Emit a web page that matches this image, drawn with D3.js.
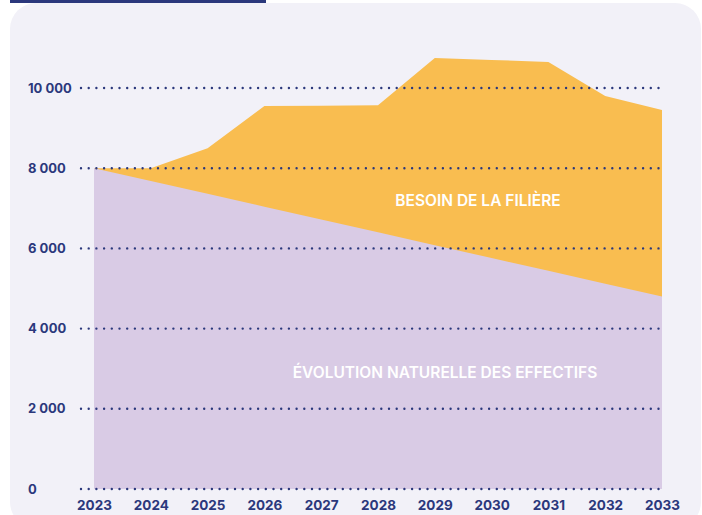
<!DOCTYPE html>
<html>
<head>
<meta charset="utf-8">
<script src="https://cdn.jsdelivr.net/npm/d3@7"></script>
<style>
  body { margin: 0; background: #ffffff; }
  svg { display: block; }
  text { font-family: "Inter", "Open Sans", sans-serif; }
</style>
</head>
<body>
<svg width="702" height="515"></svg>
<script>
// data
var years = [2023, 2024, 2025, 2026, 2027, 2028, 2029, 2030, 2031, 2032, 2033];
var besoin = [8000, 8000, 8500, 9550, 9560, 9570, 10750, 10700, 10650, 9800, 9450];
var naturel = [8000, 7680, 7360, 7040, 6720, 6400, 6080, 5760, 5440, 5120, 4800];
var yTicks = [0, 2000, 4000, 6000, 8000, 10000];

var navy = "#2b387c";

var svg = d3.select("svg");

// panel
svg.append("rect")
  .attr("x", 10).attr("y", 3)
  .attr("width", 691).attr("height", 525)
  .attr("rx", 26)
  .attr("fill", "#f2f1f8");
svg.append("rect")
  .attr("x", 10).attr("y", 0)
  .attr("width", 256).attr("height", 3)
  .attr("fill", navy);

var x = d3.scaleLinear().domain([2023, 2033]).range([94, 662]);
var y = d3.scaleLinear().domain([0, 10000]).range([489, 88]);

var rows = years.map(function(yr, i) {
  return { year: yr, besoin: besoin[i], naturel: naturel[i] };
});

// orange area (need of the sector)
var areaBesoin = d3.area()
  .x(d => x(d.year))
  .y0(d => y(0))
  .y1(d => y(d.besoin));
svg.append("path")
  .datum(rows)
  .attr("fill", "#f9bd50")
  .attr("d", areaBesoin);

// purple area (natural evolution)
var areaNat = d3.area()
  .x(d => x(d.year))
  .y0(d => y(0))
  .y1(d => y(d.naturel));
svg.append("path")
  .datum(rows)
  .attr("fill", "#d9cbe5")
  .attr("d", areaNat);

// dotted grid lines on top
svg.append("g")
  .selectAll("line")
  .data(yTicks)
  .join("line")
  .attr("x1", 81).attr("x2", 664)
  .attr("y1", d => y(d)).attr("y2", d => y(d))
  .attr("stroke", navy)
  .attr("stroke-width", 2.4)
  .attr("stroke-linecap", "round")
  .attr("stroke-dasharray", "0 7.7");

var fmt = function(v) {
  return d3.format(",")(v).replace(/,/g, " ");
};

// y labels
svg.append("g")
  .selectAll("text")
  .data(yTicks)
  .join("text")
  .attr("x", 28)
  .attr("y", d => y(d) + 4.5)
  .attr("fill", navy)
  .attr("font-size", 13)
  .attr("font-weight", 700)
  .text(d => fmt(d));

// x labels
var xAxis = d3.axisBottom(x)
  .tickValues(years)
  .tickFormat(d3.format("d"))
  .tickSize(0)
  .tickPadding(0);
var gx = svg.append("g")
  .attr("transform", "translate(0,500)")
  .call(xAxis);
gx.select(".domain").remove();
gx.selectAll("text")
  .attr("fill", navy)
  .attr("font-size", 13.5)
  .attr("font-weight", 700)
  .attr("dy", "0.71em")
  .style("font-family", "Inter, 'Open Sans', sans-serif");

// area labels
svg.append("text")
  .attr("x", 478).attr("y", 206)
  .attr("text-anchor", "middle")
  .attr("fill", "#ffffff")
  .attr("font-size", 15.5)
  .attr("font-weight", 600)
  .text("BESOIN DE LA FILIÈRE");

svg.append("text")
  .attr("x", 445).attr("y", 378)
  .attr("text-anchor", "middle")
  .attr("fill", "#ffffff")
  .attr("font-size", 15.5)
  .attr("font-weight", 600)
  .text("ÉVOLUTION NATURELLE DES EFFECTIFS");
</script>
</body>
</html>
